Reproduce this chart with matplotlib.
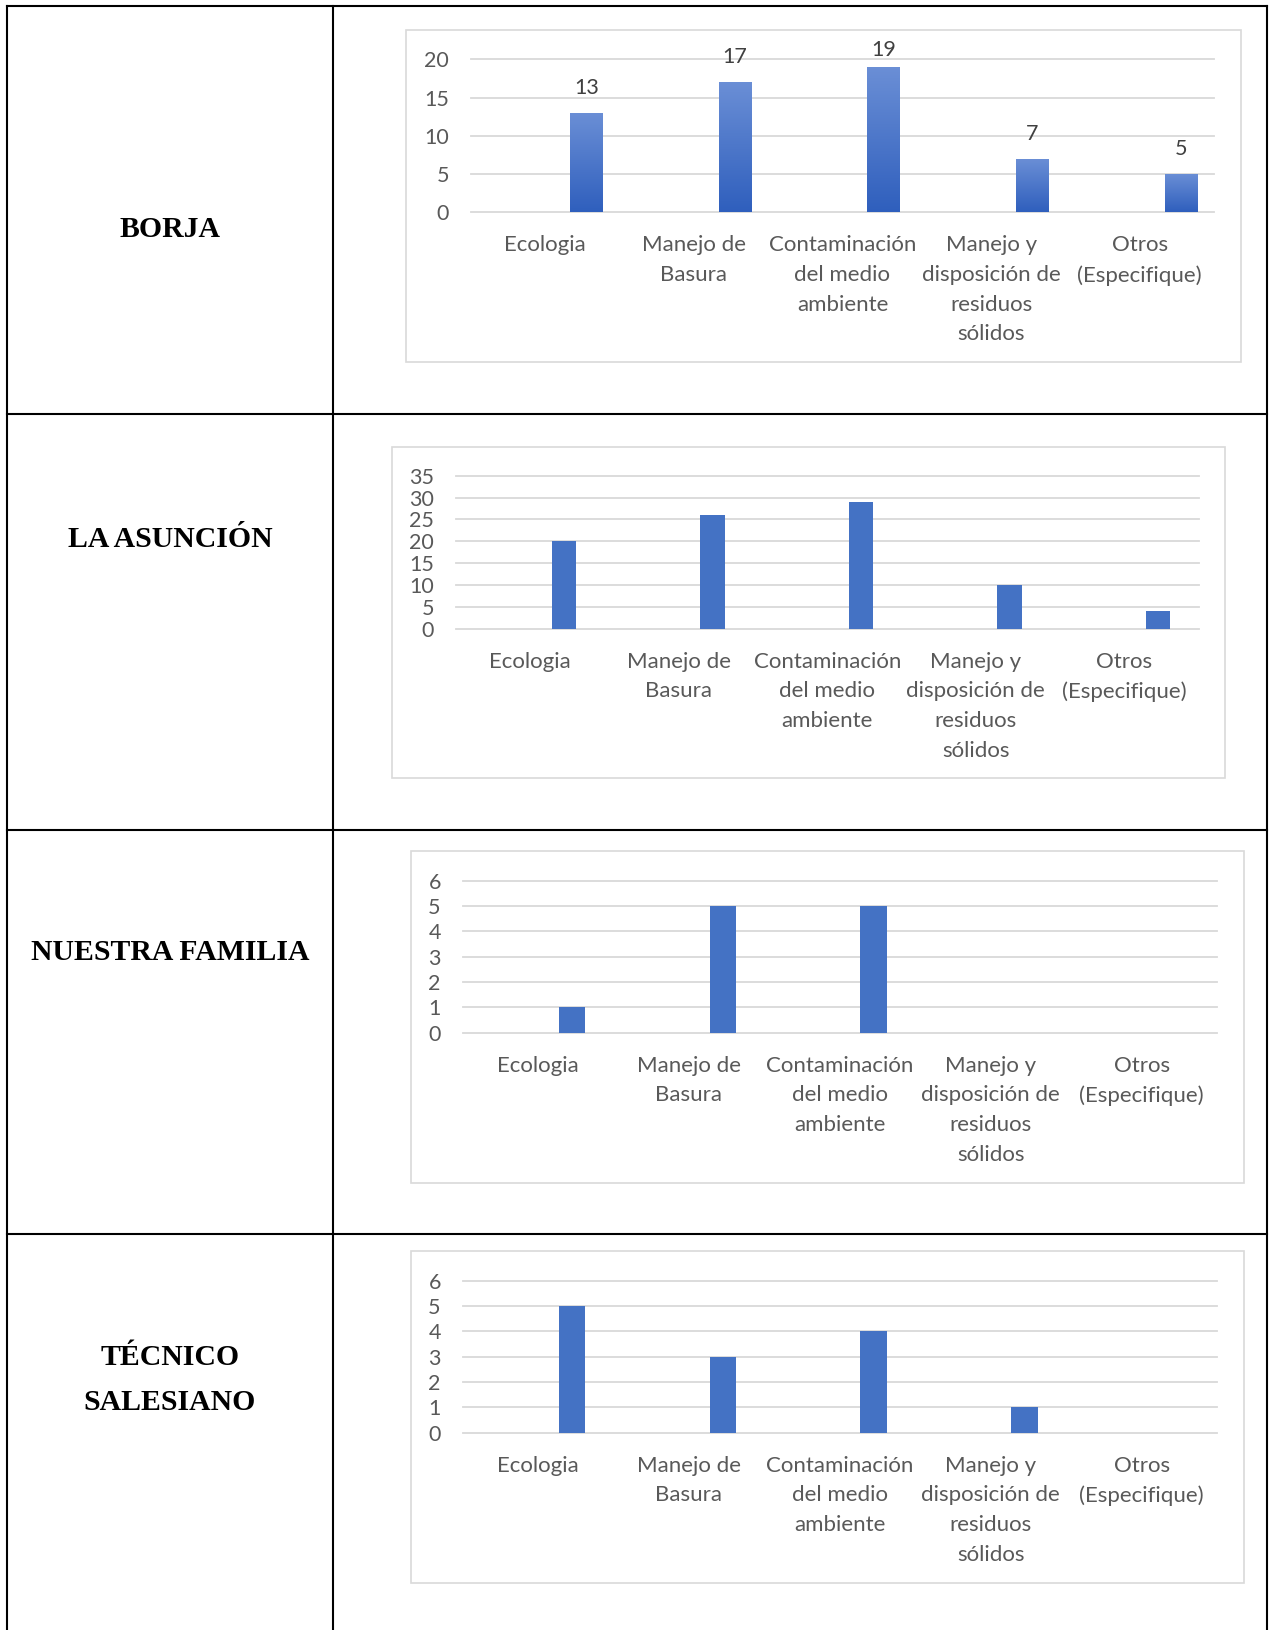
import numpy as np
import matplotlib.pyplot as plt
from matplotlib.patches import Rectangle
from matplotlib.lines import Line2D
from matplotlib.colors import LinearSegmentedColormap

W, H = 1275, 1630
DPI = 100

categories = ["Ecologia", "Manejo de\nBasura", "Contaminación\ndel medio\nambiente",
              "Manejo y\ndisposición de\nresiduos\nsólidos", "Otros\n(Especifique)"]
schools = ["BORJA", "LA ASUNCIÓN", "NUESTRA FAMILIA", "TÉCNICO\nSALESIANO"]

borja = [13, 17, 19, 7, 5]
asuncion = [20, 26, 29, 10, 4]
nuestra_familia = [1, 5, 5, 0, 0]
tecnico_salesiano = [5, 3, 4, 1, 0]

y_max = [20, 35, 6, 6]
y_step = [5, 5, 1, 1]

# pixel layout of each chart: frame box, plot box (left, right, y of top tick, y of zero)
frames = [(406, 30, 1241, 362), (392, 447, 1225, 778), (411, 851, 1244, 1183), (411, 1251, 1244, 1583)]
plots = [(471, 1214, 59.3, 212.3), (456, 1198.5, 475.7, 628.7), (462.7, 1217, 880.7, 1032.7), (462.7, 1217, 1280.7, 1432.7)]
bar_offset = [0.277, 0.228, 0.225, 0.225]
bar_width = [0.22, 0.165, 0.177, 0.177]
# baselines of the row titles in the left column
title_baselines = [[237], [546.7], [960], [1365, 1410]]

TXT = "#595959"
BLUE = "#4472C4"
GRID = "#d9d9d9"
FONT = "Lato"

fig = plt.figure(figsize=(W / DPI, H / DPI), dpi=DPI)

def fx(x):
    return x / W

def fy(y):
    return 1 - y / H

# table lines
lw_tab = 1.5
for x in [7, 333, 1267]:
    fig.add_artist(Line2D([fx(x), fx(x)], [fy(6), 0], color="black", lw=lw_tab))
for y in [6, 414, 830, 1234]:
    fig.add_artist(Line2D([fx(7), fx(1267)], [fy(y), fy(y)], color="black", lw=lw_tab))

# row titles
for name, bases in zip(schools, title_baselines):
    for line, b in zip(name.split("\n"), bases):
        fig.text(fx(170), fy(b), line, ha="center", va="baseline",
                 fontsize=21.4, fontweight="bold", family="Liberation Serif")

data = [borja, asuncion, nuestra_familia, tecnico_salesiano]

for i, vals in enumerate(data):
    l, t, r, b = frames[i]
    fig.add_artist(Rectangle((fx(l), fy(b)), fx(r - l), (b - t) / H, transform=fig.transFigure,
                             fill=False, edgecolor=GRID, lw=1.2))
    pl, pr, pt, pb = plots[i]
    ax = fig.add_axes([fx(pl), fy(pb), fx(pr - pl), (pb - pt) / H])
    x = np.arange(len(categories))
    bars = ax.bar(x + bar_offset[i], vals, width=bar_width[i], color=BLUE, zorder=3)

    if i == 0:
        # gradient fill and value labels on the first chart
        cmap = LinearSegmentedColormap.from_list("g", ["#2f5fbd", "#6b8fd6"])
        grad = np.linspace(0, 1, 256).reshape(-1, 1)
        for bar in bars:
            x0, w, h = bar.get_x(), bar.get_width(), bar.get_height()
            im = ax.imshow(grad, cmap=cmap, extent=[x0, x0 + w, 0, h], origin="lower",
                           aspect="auto", zorder=4)
            im.set_clip_path(bar)
        for xi, v in zip(x, vals):
            # labels sit above the bar but are kept inside the chart frame
            ly = min(v + 3.3, y_max[i] * 1.06)
            ax.text(xi + bar_offset[i], ly, str(v), ha="center", va="center",
                    fontsize=15.5, color="#404040", family=FONT)

    ax.set_xlim(-0.5, len(categories) - 0.5)
    ax.set_ylim(0, y_max[i])
    ax.set_yticks(np.arange(0, y_max[i] + 1, y_step[i]))
    ax.set_xticks(x)
    ax.set_xticklabels(categories, linespacing=1.61)
    ax.tick_params(axis="both", length=0, labelcolor=TXT)
    ax.tick_params(axis="x", pad=16.5, labelsize=16)
    ax.tick_params(axis="y", pad=15.8, labelsize=15.5)
    for lab in ax.get_xticklabels() + ax.get_yticklabels():
        lab.set_family(FONT)
    for s in ax.spines.values():
        s.set_visible(False)
    ax.set_facecolor("none")
    ax.yaxis.grid(True, color=GRID, lw=1.3, zorder=0)
    for gl in ax.get_ygridlines():
        gl.set_clip_on(False)
    ax.set_axisbelow(True)

fig.savefig("out.png", dpi=DPI)
